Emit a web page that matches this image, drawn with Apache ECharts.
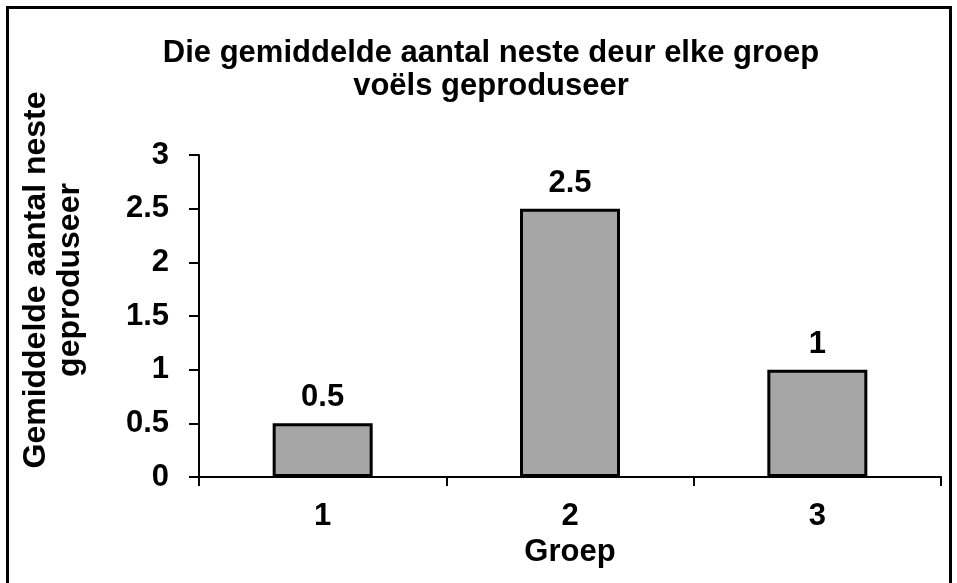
<!DOCTYPE html>
<html>
<head>
<meta charset="utf-8">
<script src="https://cdn.jsdelivr.net/npm/echarts@6/dist/echarts.min.js"></script>
<style>html,body{margin:0;padding:0;background:#fff}#c{width:957px;height:583px}</style>
</head>
<body>
<div id="c"></div>
<script>
const titleText = 'Die gemiddelde aantal neste deur elke groep\nvoëls geproduseer';
const categories = ['1', '2', '3'];
const values = [0.5, 2.5, 1];
const yAxisName = 'Gemiddelde aantal neste\ngeproduseer';
const xAxisName = 'Groep';
const FONT = "'Liberation Sans', Arial, sans-serif";

const chart = echarts.init(document.getElementById('c'), null, {renderer: 'canvas'});
chart.setOption({
  backgroundColor: '#fff',
  animation: false,
  title: {
    text: titleText,
    left: 486,
    top: 32,
    textAlign: 'center',
    textStyle: {fontFamily: FONT, fontSize: 31, fontWeight: 'bold', color: '#000', lineHeight: 33}
  },
  graphic: [{
    type: 'rect',
    shape: {x: 7.5, y: 7.5, width: 943, height: 590},
    style: {fill: 'none', stroke: '#000', lineWidth: 3},
    silent: true
  }],
  grid: {left: 199, right: 16, top: 155, bottom: 106, containLabel: false},
  xAxis: {
    type: 'category',
    data: categories,
    name: xAxisName,
    nameLocation: 'middle',
    nameGap: 59,
    nameTextStyle: {fontFamily: FONT, fontSize: 31, fontWeight: 'bold', color: '#000'},
    axisLine: {lineStyle: {color: '#000', width: 2}},
    axisTick: {show: true, alignWithLabel: false, length: 9, lineStyle: {color: '#000', width: 2}},
    axisLabel: {margin: 24, fontFamily: FONT, fontSize: 31, fontWeight: 'bold', color: '#000'},
    splitLine: {show: false}
  },
  yAxis: {
    type: 'value',
    min: 0, max: 3, interval: 0.5,
    name: yAxisName,
    nameLocation: 'middle',
    nameRotate: 90,
    nameGap: 112,
    nameTextStyle: {fontFamily: FONT, fontSize: 32, fontWeight: 'bold', color: '#000', lineHeight: 34, padding: [0, 0, 0, 72]},
    axisLine: {show: true, lineStyle: {color: '#000', width: 2}},
    axisTick: {show: true, length: 10, lineStyle: {color: '#000', width: 2}},
    axisLabel: {margin: 30, fontFamily: FONT, fontSize: 31, fontWeight: 'bold', color: '#000'},
    splitLine: {show: false}
  },
  series: [{
    type: 'bar',
    data: values,
    barWidth: 100,
    itemStyle: {color: '#a6a6a6', borderColor: '#000', borderWidth: 3},
    label: {show: true, position: 'top', distance: 10, fontFamily: FONT, fontSize: 31, fontWeight: 'bold', color: '#000'}
  }]
});
</script>
</body>
</html>
